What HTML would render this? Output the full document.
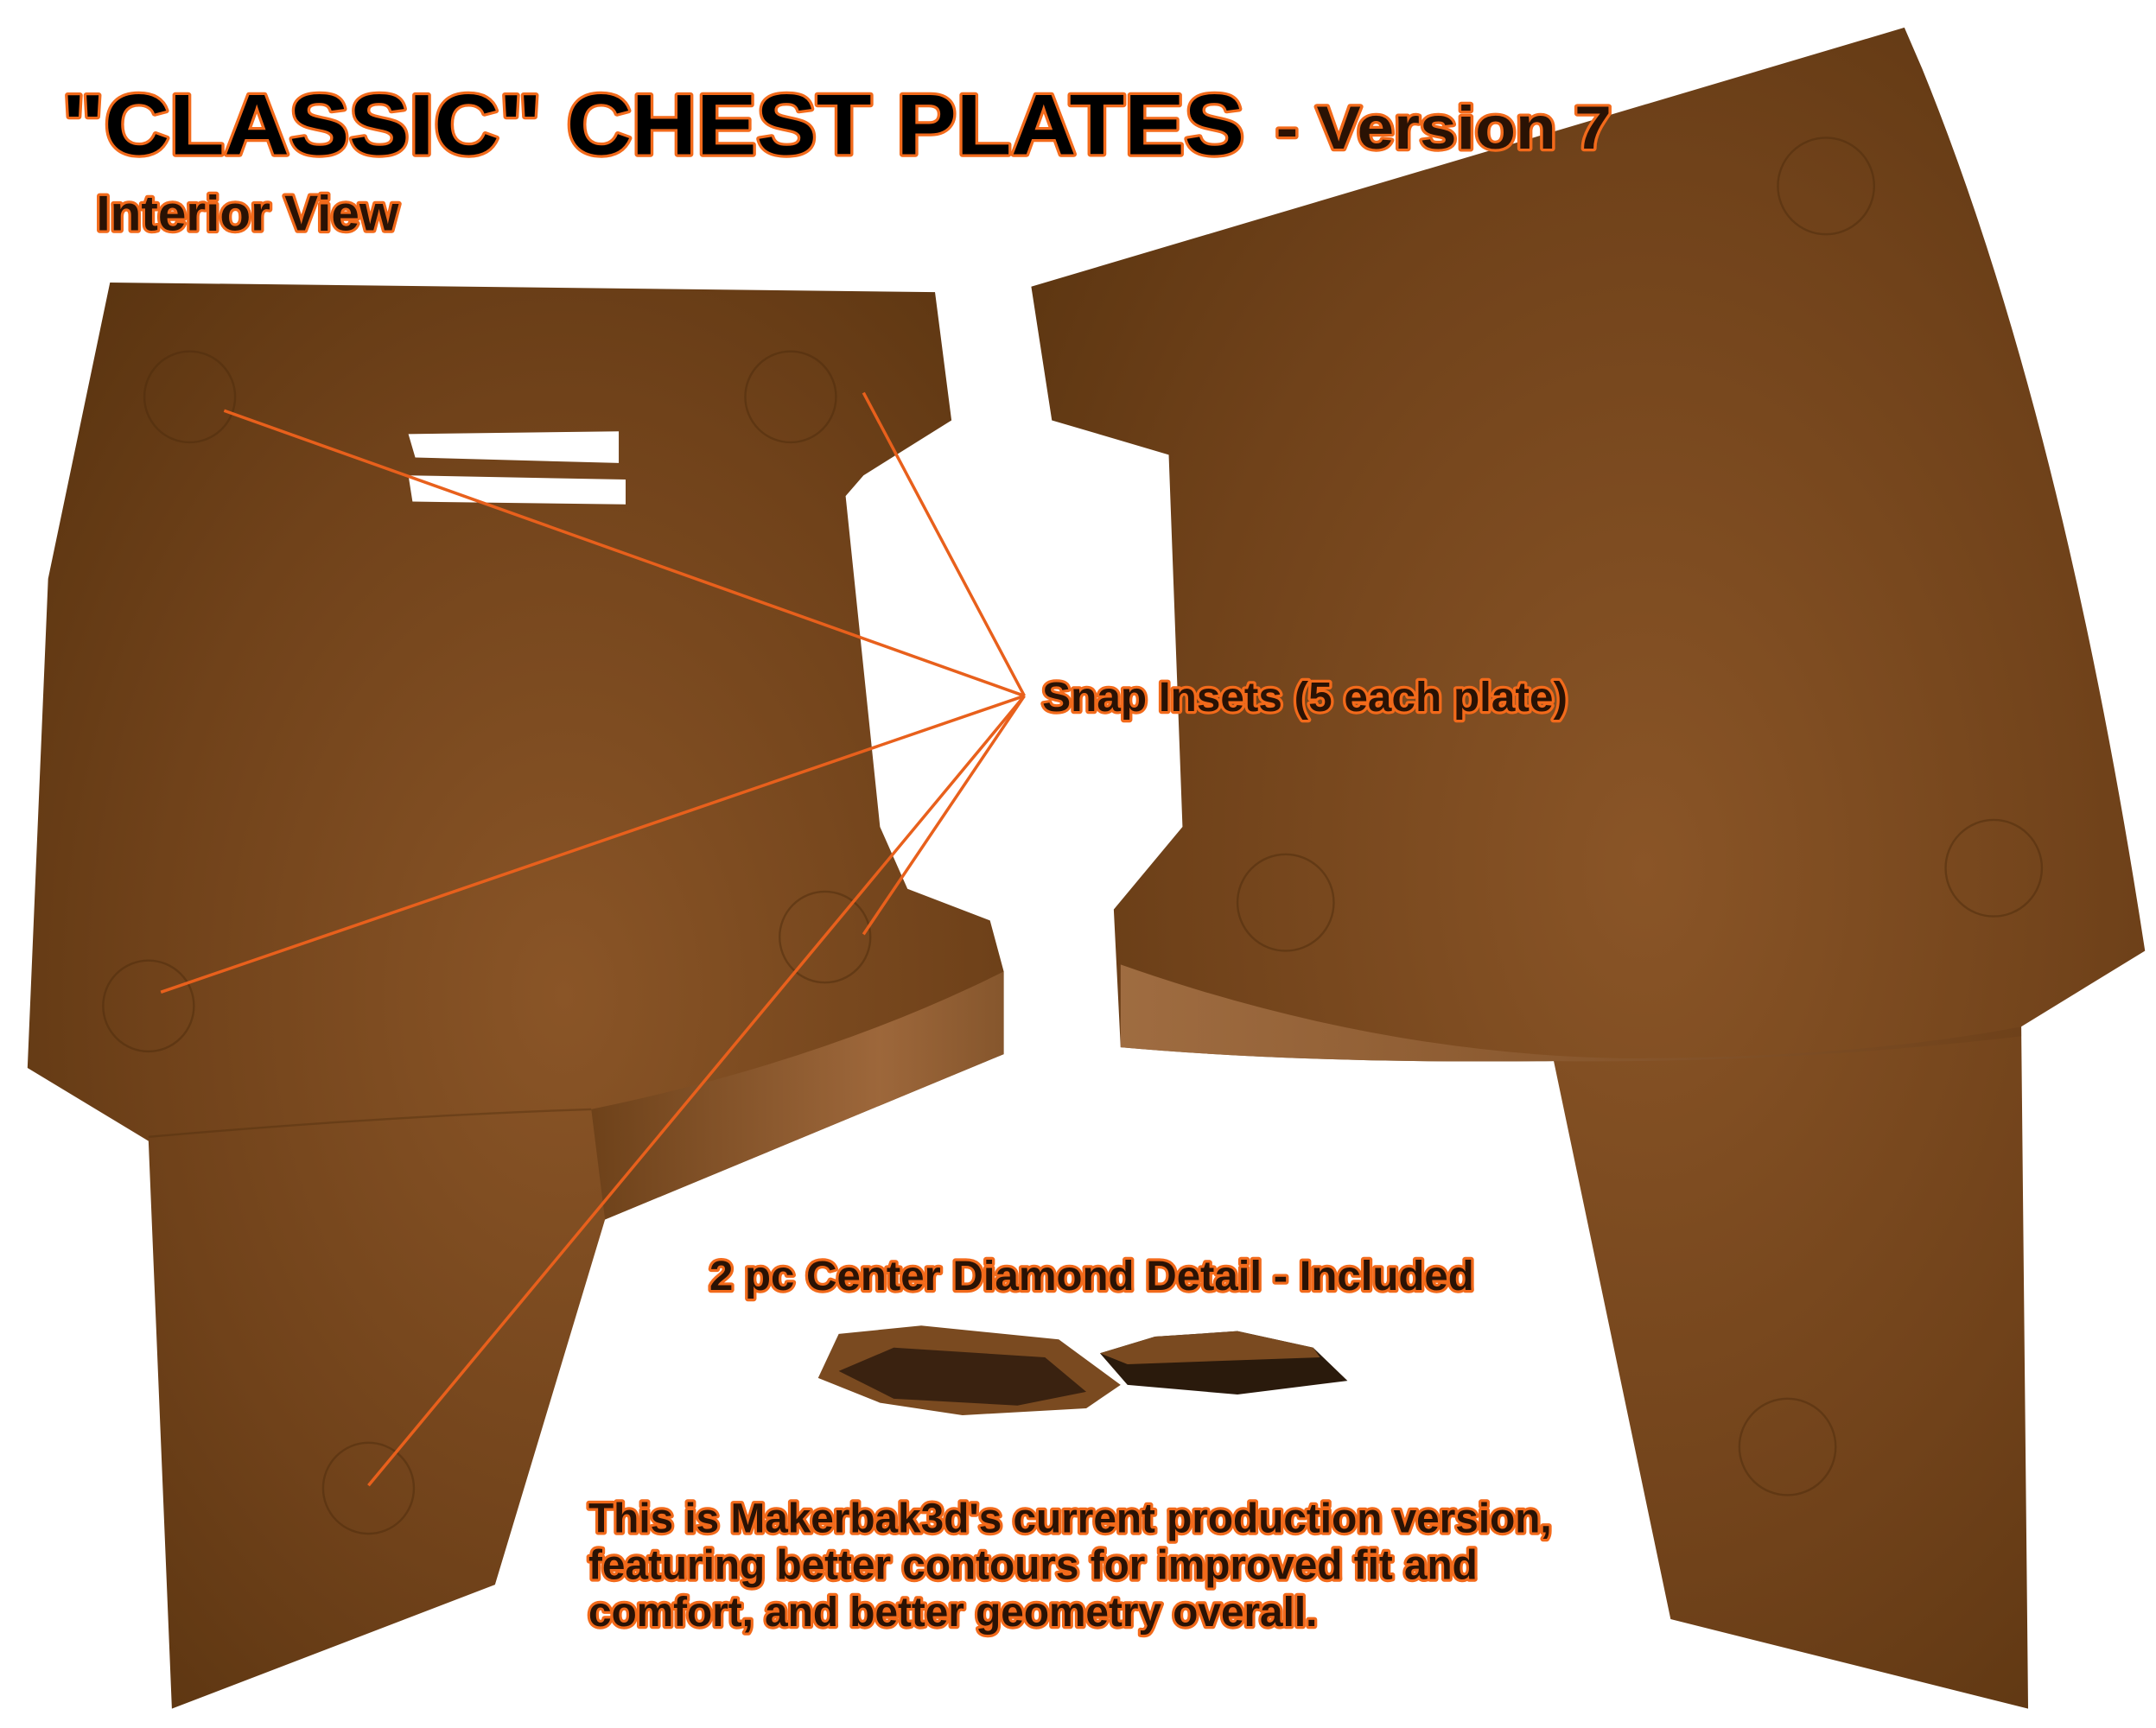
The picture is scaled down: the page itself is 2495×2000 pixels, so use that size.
<!DOCTYPE html>
<html><head><meta charset="utf-8"><style>
html,body{margin:0;padding:0;background:#fff;}
svg{display:block;}
text{font-family:"Liberation Sans",sans-serif;font-weight:bold;paint-order:stroke;stroke:#f26a1b;stroke-linejoin:round;}
</style></head><body>
<svg width="2495" height="2000" viewBox="0 0 1568 1254" preserveAspectRatio="none" xmlns="http://www.w3.org/2000/svg">
<defs>
<radialGradient id="g1" cx="0.55" cy="0.5" r="0.7">
<stop offset="0" stop-color="#8a5527"/><stop offset="0.6" stop-color="#70421a"/><stop offset="1" stop-color="#5a3410"/>
</radialGradient>
<linearGradient id="band" x1="0" x2="1" y1="0" y2="0">
<stop offset="0" stop-color="#6a3f18"/><stop offset="0.7" stop-color="#a46d40"/><stop offset="1" stop-color="#8a5a30"/>
</linearGradient>
<linearGradient id="band2" x1="0" x2="1">
<stop offset="0" stop-color="#a87448"/><stop offset="1" stop-color="#6d4019"/>
</linearGradient>
</defs>
<!-- left plate -->
<path d="M80,205 L680,212 L692,305 L628,345 L615,360 L640,600 L660,645 L720,668 L730,705 L730,765 L440,885 L360,1150 L125,1240 L108,828 L20,775 L35,420 Z" fill="url(#g1)"/>
<path d="M430,805 Q600,770 730,705 L730,765 L440,885 Z" fill="url(#band)" opacity="0.85"/>
<path d="M108,825 Q280,810 430,805" fill="none" stroke="#4e2c0c" stroke-width="1.5" opacity="0.4"/>
<path d="M297,315 L450,313 L450,336 L302,332 Z M297,345 L455,348 L455,366 L300,364 Z" fill="#fff"/>
<!-- right plate -->
<path d="M750,208 L1385,20 L1398,50 Q1500,300 1560,690 L1470,745 L1475,1240 L1215,1175 L1130,770 Q950,772 815,760 L810,660 L860,600 L850,330 L765,305 Z" fill="url(#g1)"/>
<path d="M815,700 Q1000,765 1180,768 Q1350,768 1470,745 L1470,752 Q1300,772 1130,770 Q950,772 815,760 Z" fill="url(#band2)" opacity="0.85"/>
<!-- insets -->
<g fill="none" stroke="#4e2c0c" stroke-width="1.5" opacity="0.5">
<circle cx="138" cy="288" r="33"/><circle cx="575" cy="288" r="33"/><circle cx="108" cy="730" r="33"/><circle cx="600" cy="680" r="33"/><circle cx="268" cy="1080" r="33"/>
<circle cx="1328" cy="135" r="35"/><circle cx="1450" cy="630" r="35"/><circle cx="935" cy="655" r="35"/><circle cx="1300" cy="1050" r="35"/>
</g>
<!-- diamonds -->
<path d="M595,1000 L610,968 L670,962 L770,972 L815,1005 L790,1022 L700,1027 L640,1018 Z" fill="#7a4a20"/>
<path d="M610,995 L650,978 L760,985 L790,1010 L740,1020 L650,1015 Z" fill="#3a2210"/>
<path d="M800,982 L840,970 L900,966 L955,978 L980,1002 L900,1012 L820,1005 Z" fill="#2a1a0c"/>
<path d="M800,982 L840,970 L900,966 L955,978 L960,985 L820,990 Z" fill="#7a4a20"/>
<!-- connectors -->
<g stroke="#e8601c" stroke-width="2.2" fill="none">
<line x1="745" y1="505" x2="163" y2="298"/>
<line x1="745" y1="505" x2="628" y2="285"/>
<line x1="745" y1="505" x2="117" y2="720"/>
<line x1="745" y1="505" x2="628" y2="678"/>
<line x1="745" y1="505" x2="268" y2="1078"/>
</g>
<!-- text -->
<text x="45" y="112" font-size="62" stroke-width="4" fill="#000" textLength="860" lengthAdjust="spacingAndGlyphs">"CLASSIC" CHEST PLATES</text>
<text x="928" y="108" font-size="44" stroke-width="4" fill="#2a1204" textLength="244" lengthAdjust="spacingAndGlyphs">- Version 7</text>
<text x="70" y="167" font-size="36" stroke-width="4" fill="#2a1204" textLength="220" lengthAdjust="spacingAndGlyphs">Interior View</text>
<text x="758" y="516" font-size="30" stroke-width="4" fill="#2a1204" textLength="382" lengthAdjust="spacingAndGlyphs">Snap Insets (5 each plate)</text>
<text x="516" y="936" font-size="30" stroke-width="4" fill="#2a1204" textLength="556" lengthAdjust="spacingAndGlyphs">2 pc Center Diamond Detail - Included</text>
<text font-size="30" stroke-width="4" fill="#2a1204">
<tspan x="428" y="1112">This is Makerbak3d's current production version,</tspan>
<tspan x="428" y="1146">featuring better contours for improved fit and</tspan>
<tspan x="428" y="1180">comfort, and better geometry overall.</tspan>
</text>
</svg>
</body></html>
